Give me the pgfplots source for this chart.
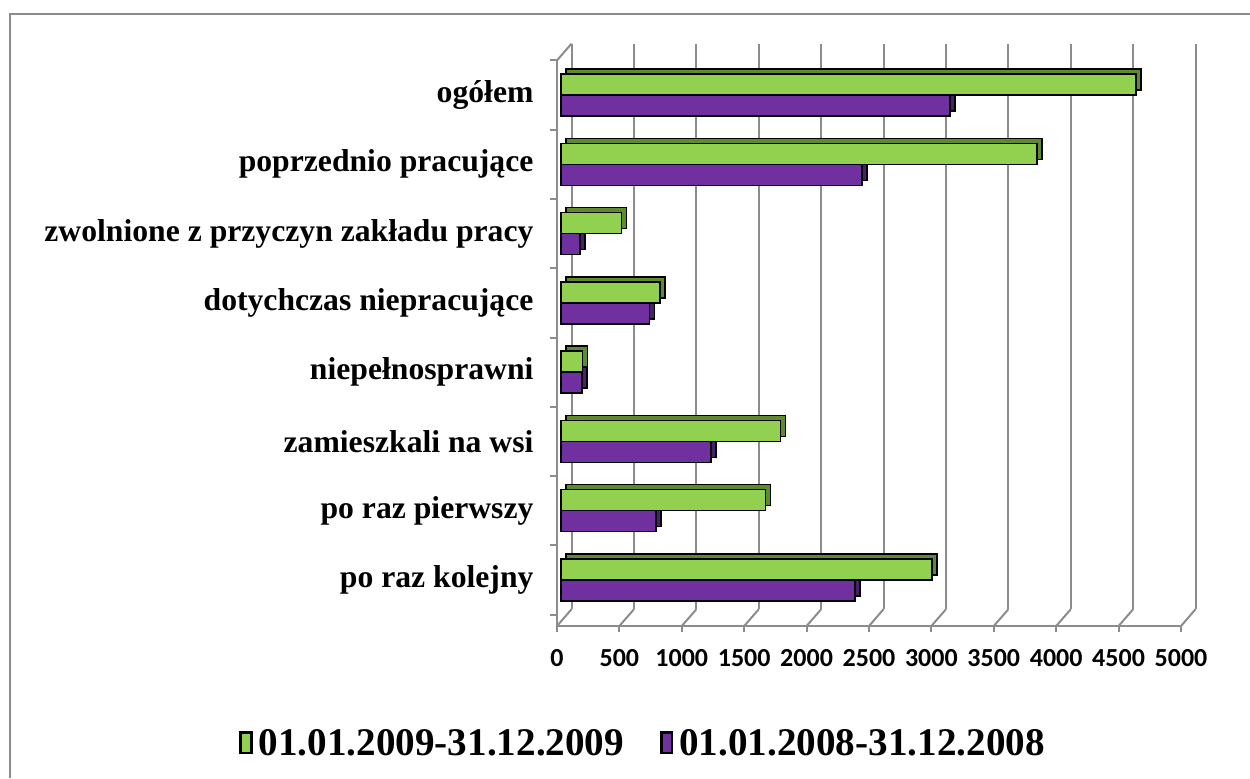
\documentclass[border=0pt]{standalone}
\usepackage{pgfplots}
\pgfplotsset{compat=1.18}
\usepackage{pgfplotstable}
\usepackage{fontspec}
\setmainfont{Liberation Serif}
\newfontfamily\tickfont{Carlito}
\definecolor{grn}{HTML}{92D050}
\definecolor{grnd}{HTML}{5E8B2E}
\definecolor{pur}{HTML}{7030A0}
\definecolor{purd}{HTML}{4A1F6E}
\definecolor{gridc}{HTML}{8C8C8C}

\pgfplotstableread{
y g p
0 2973 2355
1 1637 762
2 1760 1203
3 174 167
4 792 709
5 484 151
6 3815 2413
7 4608 3118
}\data

\begin{document}
\begin{tikzpicture}
\useasboundingbox (0,0) rectangle (750pt,466.8pt);
\draw[gridc, line width=1.2pt] (6pt,0pt) -- (6pt,458.4pt) -- (750pt,458.4pt);
\begin{axis}[
  at={(334.2pt,91.2pt)}, anchor=south west,
  scale only axis, width=374.4pt, height=339.36pt,
  clip=false,
  xmin=0, xmax=5000, ymin=-0.664, ymax=7.5,
  xtick={0,500,...,5000},
  ytick={0,...,7},
  yticklabels={po raz kolejny, po raz pierwszy, zamieszkali na wsi, niepełnosprawni, dotychczas niepracujące, zwolnione z przyczyn zakładu pracy, poprzednio pracujące, ogółem},
  minor ytick={-0.5,0.5,...,7.5},
  axis x line*=bottom, axis y line*=left,
  axis line style={gridc, line width=1.2pt},
  tick align=outside,
  major tick length=3.6pt, minor tick length=4.2pt,
  every tick/.style={gridc, line width=1.2pt},
  every major y tick/.style={draw=none},
  xmajorgrids,
  major x grid style={gridc, line width=1.2pt, xshift=8.76pt, yshift=10.08pt},
  /pgf/number format/assume math mode=true,
  /pgf/number format/1000 sep={},
  xticklabel style={font=\tickfont\bfseries\fontsize{15.6}{15.6}\selectfont, yshift=-7pt},
  yticklabel style={font=\bfseries\fontsize{19}{19}\selectfont, xshift=-7pt},
  xbar, bar width=12.6pt,
  legend image code/.code={\draw[#1,draw=black,line width=1.6pt] (0pt,-5.5pt) rectangle (6.5pt,7pt);},
  legend style={at={(0.141,-0.2086)}, anchor=center, draw=none, fill=none,
    font=\bfseries\fontsize{23.5}{23.5}\selectfont, legend columns=2,
    nodes={inner xsep=3.5pt},
    /tikz/every even column/.append style={column sep=18pt}},
]
\pgfplotsinvokeforeach{0,500,...,5000}{
  \draw[gridc, line width=1.2pt] (axis cs:#1,-0.664) -- ++(8.76pt,10.08pt);
}
\draw[gridc, line width=1.2pt] (axis cs:0,7.5) -- ++(8.76pt,10.08pt);
% purple 2008
\addplot[forget plot, fill=purd, draw=black, line width=0.9pt, bar shift=-6.3pt, xshift=5.4pt, yshift=3pt] table[x=p,y=y]{\data};
\addplot[forget plot, fill=pur, draw=black, line width=0.9pt, bar shift=-6.3pt, xshift=2.4pt] table[x=p,y=y]{\data};
% green 2009
\addplot[forget plot, fill=grnd, draw=black, line width=0.9pt, bar shift=6.3pt, xshift=5.4pt, yshift=3pt] table[x=g,y=y]{\data};
\addplot[forget plot, fill=grn, draw=black, line width=0.9pt, bar shift=6.3pt, xshift=2.4pt] table[x=g,y=y]{\data};
\addlegendimage{fill=grn}
\addlegendentry{01.01.2009-31.12.2009}
\addlegendimage{fill=pur}
\addlegendentry{01.01.2008-31.12.2008}
\end{axis}
\end{tikzpicture}
\end{document}
